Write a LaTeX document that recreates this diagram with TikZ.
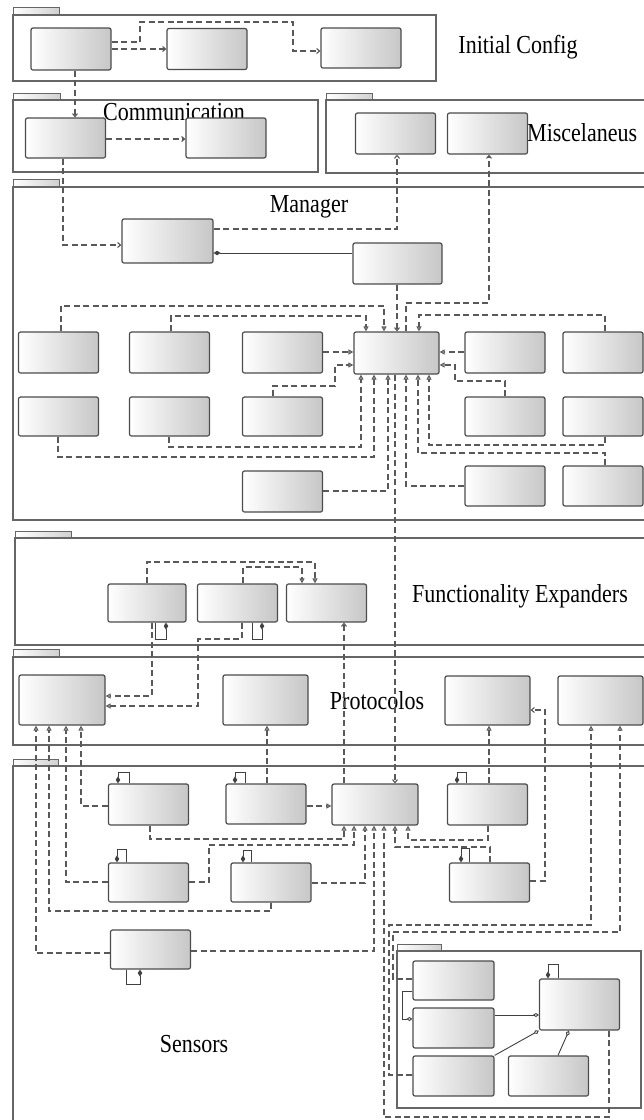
\documentclass[tikz,border=0pt]{standalone}
\usepackage{fontspec}
\setmainfont{Liberation Serif}
\usetikzlibrary{arrows.meta}

\begin{document}
\begin{tikzpicture}[
  x=1pt, y=-1pt,
  cls/.style={draw=black!70, line width=1.2pt, rounded corners=2pt, left color=white, right color=black!22, minimum width=80pt, minimum height=41pt, inner sep=0pt},
  pkg/.style={draw=black!60, line width=1.3pt},
  pkgtab/.style={draw=black!60, line width=1pt, left color=white, right color=black!18},
  pkgname/.style={font=\fontsize{22}{26}\selectfont, inner sep=0pt, yscale=1.18, transform shape},
  dep/.style={dash pattern=on 6pt off 3.5pt, draw=black!65, line width=1.1pt, -{Straight Barb[length=3pt,width=5pt]}},
  real/.style={dep, -{Triangle[open,length=5pt,width=5pt]}},
  comp/.style={draw=black!75, line width=1pt, -{Diamond[length=7pt,width=4.5pt]}},
  aggr/.style={draw=black!75, line width=0.9pt, -{Diamond[open,length=6pt,width=4pt]}}
]
\useasboundingbox (0,0) rectangle (644,1120);
\clip (0,0) rectangle (644,1120);

% packages
\draw[pkgtab] (13,7) rectangle (59,15);
\draw[pkg] (13,15) rectangle (436,81);
\draw[pkgtab] (13,93) rectangle (60,100);
\draw[pkg] (13,100) rectangle (318,172);
\draw[pkgtab] (326,93) rectangle (372,100);
\draw[pkg] (326,100) rectangle (660,173);
\draw[pkgtab] (13,179) rectangle (59,187);
\draw[pkg] (13,187) rectangle (660,520);
\draw[pkgtab] (15,531) rectangle (71,538);
\draw[pkg] (15,538) rectangle (660,645);
\draw[pkgtab] (13,649) rectangle (59,657);
\draw[pkg] (13,657) rectangle (660,745);
\draw[pkgtab] (13,759) rectangle (58,766);
\draw[pkg] (13,766) rectangle (660,1130);
\draw[pkgtab] (397,944) rectangle (441,951);
\draw[pkg] (397,951) rectangle (641,1108);

\node[pkgname] (lblInit) at (518,47) {Initial Config};
\node[pkgname] (lblComm) at (174,112) {Communication};
\node[pkgname, anchor=west] (lblMisc) at (527,133) {Miscelaneus};
\node[pkgname] (lblMgr) at (309,207) {Manager};
\node[pkgname] (lblFE) at (520,596) {Functionality Expanders};
\node[pkgname] (lblProt) at (377,701) {Protocolos};
\node[pkgname] (lblSens) at (194,1044) {Sensors};

% Initial Config / Communication / Miscelaneus
\node[cls, minimum height=42] (A1) at (71,49) {};
\node[cls] (A2) at (207,49) {};
\node[cls, minimum height=40] (A3) at (361,48) {};
\node[cls, minimum height=40] (C1) at (65.5,138) {};
\node[cls, minimum height=40] (C2) at (226,138) {};
\node[cls] (Mi1) at (395.5,133.5) {};
\node[cls] (Mi2) at (487.5,133.5) {};

% Manager
\node[cls, minimum width=91, minimum height=44] (M1) at (167.5,241) {};
\node[cls, minimum width=89] (M2) at (397.5,263.5) {};
\node[cls, minimum width=85, minimum height=42] (H) at (396.5,353) {};
\node[cls] (G11) at (58.5,352.5) {};
\node[cls] (G12) at (169.5,352.5) {};
\node[cls] (G13) at (282.5,352.5) {};
\node[cls] (G14) at (505,352.5) {};
\node[cls] (G15) at (603,352.5) {};
\node[cls, minimum height=39] (G21) at (58.5,416.5) {};
\node[cls, minimum height=39] (G22) at (169.5,416.5) {};
\node[cls, minimum height=39] (G23) at (282.5,416.5) {};
\node[cls, minimum height=39] (G24) at (505,416.5) {};
\node[cls, minimum height=39] (G25) at (603,416.5) {};
\node[cls] (G33) at (282.5,491.5) {};
\node[cls, minimum height=40] (G34) at (505,486) {};
\node[cls, minimum height=40] (G35) at (603,486) {};

% Functionality Expanders / Protocolos
\node[cls, minimum width=78, minimum height=38] (F1) at (147,603) {};
\node[cls, minimum height=38] (F2) at (237.5,603) {};
\node[cls, minimum height=38] (F3) at (326.5,603) {};
\node[cls, minimum width=86, minimum height=50] (P1) at (62,700) {};
\node[cls, minimum width=85, minimum height=50] (P2) at (265.5,700) {};
\node[cls, minimum width=85, minimum height=49] (P3) at (487.5,700.5) {};
\node[cls, minimum width=85, minimum height=49] (P4) at (600.5,700.5) {};

% Sensors
\node[cls] (S1) at (148.5,804.5) {};
\node[cls, minimum height=40] (S2) at (266,804) {};
\node[cls, minimum width=86] (SH) at (375,804.5) {};
\node[cls] (S3) at (487.5,804.5) {};
\node[cls, minimum height=39] (S4) at (148.5,882.5) {};
\node[cls, minimum height=39] (S5) at (271,882.5) {};
\node[cls, minimum height=39] (S6) at (489.5,882.5) {};
\node[cls, minimum height=39] (S7) at (150.5,949.5) {};
\node[cls, minimum width=81, minimum height=39] (T1) at (453.5,980.5) {};
\node[cls, minimum width=81, minimum height=40] (T2) at (453.5,1028) {};
\node[cls, minimum width=81, minimum height=40] (T3) at (453.5,1076) {};
\node[cls, minimum height=40] (T4) at (548.5,1076) {};
\node[cls, minimum height=51] (T5) at (579.5,1004.5) {};

% top packages
\draw[dep] (A1.east |- 0,49) -- (A2.west |- 0,49);
\draw[dep] (A1.east |- 0,42) -| (140,22) -| (293,51) -- (A3.west |- 0,51);
\draw[dep] (A1.south -| 75,0) -- (C1.north -| 75,0);
\draw[dep] (C1.east |- 0,139) -- (C2.west |- 0,139);
\draw[dep] (C1.south -| 63,0) |- (M1.west |- 0,245);

% manager
\draw[dep] (M1.east |- 0,229) -| (Mi1.south -| 397,0);
\draw[comp] (M2.west |- 0,253) -- (M1.east |- 0,253);
\draw[dep] (M2.south -| 397,0) -- (H.north -| 397,0);
\draw[dep] (H.north -| 406,0) |- (489,303) -- (Mi2.south -| 489,0);
\draw[real] (G11.north -| 61,0) |- (384,306) -- (H.north -| 384,0);
\draw[real] (G12.north -| 171,0) |- (366,316) -- (H.north -| 366,0);
\draw[real] (G15.north -| 605,0) |- (419,315) -- (H.north -| 419,0);
\draw[real] (G13.east |- 0,352) -- (H.west |- 0,352);
\draw[real] (G14.west |- 0,352) -- (H.east |- 0,352);
\draw[real] (G23.north -| 273,0) |- (335,386) |- (H.west |- 0,365);
\draw[real] (G24.north -| 505,0) |- (455,381) |- (H.east |- 0,365);
\draw[real] (G22.south -| 169,0) |- (361,447) -- (H.south -| 361,0);
\draw[real] (G21.south -| 58,0) |- (374,457) -- (H.south -| 374,0);
\draw[real] (G33.east |- 0,491) -| (H.south -| 388,0);
\draw[real] (G34.west |- 0,486) -| (H.south -| 406,0);
\draw[real] (G35.north -| 605,0) |- (418,453) -- (H.south -| 418,0);
\draw[real] (G25.south -| 605,0) |- (429,445) -- (H.south -| 429,0);
\draw[dep] (H.south -| 395,0) -- (SH.north -| 395,0);

% functionality expanders
\draw[real] (F1.north -| 147,0) |- (315,562) -- (F3.north -| 315,0);
\draw[real] (F2.north -| 243,0) |- (302,567) -- (F3.north -| 302,0);
\draw[comp] (F1.south -| 155,0) |- (166,639) -- (F1.south -| 166,0);
\draw[comp] (F2.south -| 252,0) |- (262,639) -- (F2.south -| 262,0);
\draw[real] (F1.south -| 152,0) |- (P1.east |- 0,696);
\draw[real] (F2.south -| 242,0) |- (198,639) |- (P1.east |- 0,706);
\draw[dep] (SH.north -| 344,0) -- (F3.south -| 344,0);

% sensors to protocolos
\draw[real] (S1.west |- 0,806) -| (P1.south -| 81,0);
\draw[real] (S4.west |- 0,882) -| (P1.south -| 66,0);
\draw[real] (S5.south -| 271,0) |- (49,911) -- (P1.south -| 49,0);
\draw[real] (S7.west |- 0,953) -| (P1.south -| 36,0);
\draw[real] (S2.north -| 267,0) -- (P2.south -| 267,0);
\draw[real] (S3.north -| 489,0) -- (P3.south -| 489,0);
\draw[dep] (S6.east |- 0,881) -| (545,710) -- (P3.east |- 0,710);
\draw[real] (T3.west |- 0,1075) -| (389,925) -| (P4.south -| 591,0);
\draw[real] (T1.west |- 0,979) -| (393,932) -| (P4.south -| 620,0);

% sensors hub
\draw[real] (S2.east |- 0,806) -- (SH.west |- 0,806);
\draw[real] (S1.south -| 150,0) |- (344,839) -- (SH.south -| 344,0);
\draw[real] (S4.east |- 0,882) -| (209,845) -| (SH.south -| 354,0);
\draw[real] (S5.east |- 0,883) -| (SH.south -| 365,0);
\draw[real] (S7.east |- 0,951) -| (SH.south -| 374,0);
\draw[real] (T5.south -| 609,0) |- (384,1117) -- (SH.south -| 384,0);
\draw[real] (S6.north -| 490,0) |- (395,847) -- (SH.south -| 395,0);
\draw[real] (S3.south -| 488,0) |- (408,840) -- (SH.south -| 408,0);

% self compositions
\draw[comp] (S1.north -| 129,0) |- (118,772) -- (S1.north -| 118,0);
\draw[comp] (S2.north -| 245,0) |- (235,772) -- (S2.north -| 235,0);
\draw[comp] (S3.north -| 466,0) |- (457,772) -- (S3.north -| 457,0);
\draw[comp] (S4.north -| 126,0) |- (117,849) -- (S4.north -| 117,0);
\draw[comp] (S5.north -| 251,0) |- (243,850) -- (S5.north -| 243,0);
\draw[comp] (S6.north -| 469,0) |- (461,848) -- (S6.north -| 461,0);
\draw[comp] (S7.south -| 126,0) |- (140,984) -- (S7.south -| 140,0);
\draw[comp] (T5.north -| 558,0) |- (548,964) -- (T5.north -| 548,0);

% inner package
\draw[aggr] (T1.west |- 0,991) -| (402,1019) -- (T2.west |- 0,1019);
\draw[aggr] (T2.east |- 0,1015) -- (T5.west |- 0,1015);
\draw[aggr] (T3.north east) -- (T5.south west);
\draw[aggr] (T4.north -| 558,0) -- (T5.south -| 569,0);

\end{tikzpicture}
\end{document}
